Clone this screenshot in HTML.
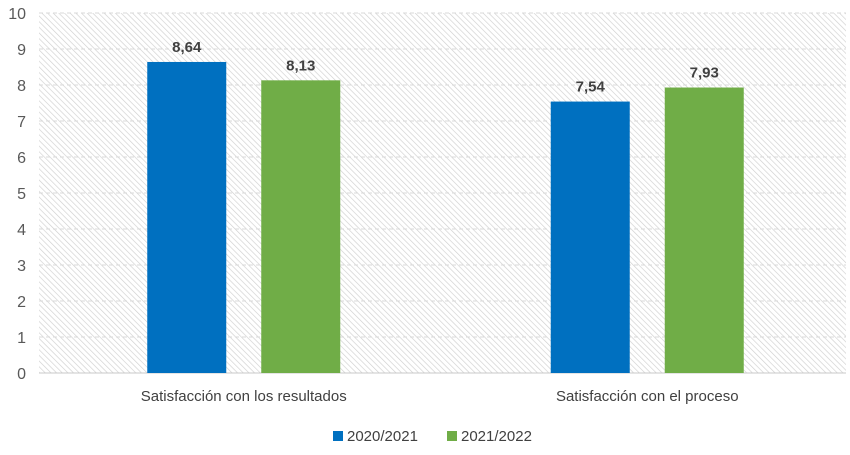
<!DOCTYPE html>
<html><head><meta charset="utf-8"><style>
body{margin:0;background:#fff;width:850px;height:450px;overflow:hidden}
svg{font-family:"Liberation Sans",sans-serif}
</style></head><body>
<svg id="c" width="850" height="450">
<defs><pattern id="hatch" width="4" height="4" patternUnits="userSpaceOnUse" patternTransform="rotate(-45)">
<line x1="0" y1="0" x2="0" y2="4" stroke="#cfcfcf" stroke-width="1.3"/></pattern></defs>
<rect x="39" y="13" width="807" height="360" fill="url(#hatch)"/>
<g id="g"></g>
</svg>
<script>
const categories=["Satisfacción con los resultados","Satisfacción con el proceso"];
const seriesNames=["2020/2021","2021/2022"];
const series2021=[8.64,7.54];
const series2022=[8.13,7.93];
const yTicks=[0,1,2,3,4,5,6,7,8,9,10];
const colors=["#0070C0","#70AD47"];
const L=39,R=846,T=13,B=373,ymax=10;
const y=v=>B-(B-T)*v/ymax;
const bw=(R-L)/categories.length;
const g=document.getElementById('g');
const NS="http://www.w3.org/2000/svg";
function mk(t,a,txt){const e=document.createElementNS(NS,t);for(const k in a)e.setAttribute(k,a[k]);if(txt!==undefined)e.textContent=txt;g.appendChild(e);return e;}
yTicks.forEach(t=>{
 const ln=mk('line',{x1:L,x2:R,y1:y(t),y2:y(t),stroke:t===0?'#c8c8c8':'#d9d9d9','stroke-dasharray':t===0?'':'4,3','stroke-width':1});
 
 
 const tx=mk('text',{x:26,y:y(t)+6,'text-anchor':'end','font-size':16,fill:'#595959'},String(t));
 
 
});
const data=[series2021,series2022];
const barW=79,gap=35;
categories.forEach((c,i)=>{
 const cx=L+bw*(i+0.5)+3;
 data.forEach((s,j)=>{
  const x=cx-gap/2-barW+j*(barW+gap);
  const r=mk('rect',{x:x,y:y(s[i]),width:barW,height:B-y(s[i]),fill:colors[j]});
  
  
  const lb=mk('text',{x:x+barW/2,y:y(s[i])-10,'text-anchor':'middle','font-size':15,'font-weight':'bold',fill:'#404040'},s[i].toFixed(2).replace('.',','));
  
  
 });
 const ct=mk('text',{x:cx,y:401,'text-anchor':'middle','font-size':15,fill:'#404040'},c);
 
 
});
const lx=[333,447];
seriesNames.forEach((n,j)=>{
 const r=mk('rect',{x:lx[j],y:431,width:10,height:10,fill:colors[j]});
 
 
 const t=mk('text',{x:lx[j]+14,y:441,'font-size':15,fill:'#404040'},n);
 
 
});
</script>
</body></html>
